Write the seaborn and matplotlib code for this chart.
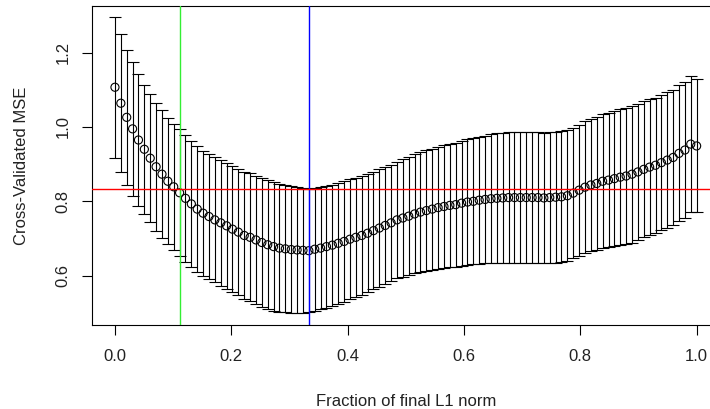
import numpy as np
import pandas as pd
import matplotlib
matplotlib.use("Agg")
import matplotlib.pyplot as plt
import seaborn as sns

# Fraction of final L1 norm (100 equally spaced steps from 0 to 1)
fraction = np.linspace(0, 1, 100)

# Cross-validated MSE
cv_mse = [
    1.107, 1.064, 1.026, 0.995, 0.965, 0.940, 0.916, 0.893, 0.873, 0.854,
    0.839, 0.823, 0.808, 0.793, 0.779, 0.768, 0.759, 0.750, 0.742, 0.734,
    0.725, 0.717, 0.708, 0.703, 0.696, 0.689, 0.683, 0.678, 0.674, 0.672,
    0.670, 0.669, 0.668, 0.667, 0.671, 0.674, 0.678, 0.682, 0.687, 0.692,
    0.698, 0.703, 0.708, 0.714, 0.721, 0.728, 0.735, 0.742, 0.750, 0.755,
    0.760, 0.766, 0.771, 0.775, 0.779, 0.783, 0.786, 0.789, 0.791, 0.795,
    0.798, 0.800, 0.803, 0.805, 0.807, 0.808, 0.809, 0.810, 0.810, 0.810,
    0.810, 0.810, 0.810, 0.809, 0.810, 0.811, 0.812, 0.815, 0.822, 0.830,
    0.838, 0.844, 0.848, 0.854, 0.857, 0.861, 0.865, 0.868, 0.873, 0.879,
    0.886, 0.892, 0.897, 0.904, 0.911, 0.918, 0.929, 0.938, 0.954, 0.949,
]

# Standard error (half-length of each error bar)
cv_se = [
    0.190, 0.185, 0.182, 0.180, 0.177, 0.174, 0.173, 0.172, 0.172, 0.170,
    0.170, 0.171, 0.171, 0.170, 0.170, 0.168, 0.168, 0.168, 0.169, 0.169,
    0.170, 0.170, 0.171, 0.172, 0.172, 0.173, 0.173, 0.173, 0.172, 0.171,
    0.170, 0.169, 0.168, 0.166, 0.165, 0.165, 0.164, 0.163, 0.163, 0.162,
    0.161, 0.160, 0.160, 0.159, 0.158, 0.158, 0.157, 0.157, 0.157, 0.158,
    0.159, 0.160, 0.161, 0.162, 0.163, 0.164, 0.165, 0.166, 0.167, 0.168,
    0.169, 0.170, 0.171, 0.172, 0.174, 0.175, 0.175, 0.176, 0.176, 0.176,
    0.176, 0.176, 0.176, 0.176, 0.176, 0.176, 0.176, 0.176, 0.175, 0.176,
    0.177, 0.178, 0.179, 0.180, 0.181, 0.182, 0.183, 0.184, 0.184, 0.184,
    0.183, 0.183, 0.182, 0.182, 0.182, 0.182, 0.183, 0.183, 0.183, 0.179,
]

x_ticks = [0.0, 0.2, 0.4, 0.6, 0.8, 1.0]
x_tick_labels = ["0.0", "0.2", "0.4", "0.6", "0.8", "1.0"]
y_ticks = [0.6, 0.8, 1.0, 1.2]
y_tick_labels = ["0.6", "0.8", "1.0", "1.2"]

df = pd.DataFrame({"fraction": fraction, "cv": cv_mse, "se": cv_se})

# best (minimum) and one-standard-error choices
i_min = int(np.argmin(df["cv"].values))
threshold = df["cv"].iloc[i_min] + df["se"].iloc[i_min]
i_1se = int(np.where(df["cv"].values <= threshold)[0][0])

sns.set_style("ticks")
plt.rcParams["font.family"] = ["Liberation Sans", "DejaVu Sans"]

fig = plt.figure(figsize=(7.10, 4.09), dpi=100)
ax = fig.add_axes([91.7 / 710, (409 - 325) / 409, (719.9 - 91.7) / 710, (325 - 5.7) / 409])

sns.scatterplot(data=df, x="fraction", y="cv", ax=ax, marker="o", s=34,
                facecolor="none", edgecolor="black", linewidth=0.8, zorder=3)
ax.errorbar(df["fraction"], df["cv"], yerr=df["se"], fmt="none",
            ecolor="black", elinewidth=0.8, capsize=4.6, capthick=0.8, zorder=2)

ax.axvline(df["fraction"].iloc[i_1se], color="#33ee33", linewidth=1.0, zorder=4)
ax.axvline(df["fraction"].iloc[i_min], color="#0000ff", linewidth=1.0, zorder=4)
ax.axhline(threshold, color="#ff0000", linewidth=1.0, zorder=4)

ax.set_xlim(-0.04, 1.04)
ax.set_ylim(0.467, 1.3265)
ax.set_xticks(x_ticks)
ax.set_xticklabels(x_tick_labels)
ax.set_yticks(y_ticks)
ax.set_yticklabels(y_tick_labels, rotation=90, va="center")
ax.tick_params(axis="both", direction="out", length=7, width=0.8, colors="black",
               labelsize=12, labelcolor="#222222", pad=8)
ax.tick_params(axis="x", pad=10)
for s in ax.spines.values():
    s.set_visible(True)
    s.set_color("black")
    s.set_linewidth(0.8)

ax.set_xlabel("Fraction of final L1 norm", fontsize=12, color="#222222", labelpad=22)
ax.set_ylabel("Cross-Validated MSE", fontsize=12, color="#222222", labelpad=19)

fig.savefig("out.png", dpi=100)
